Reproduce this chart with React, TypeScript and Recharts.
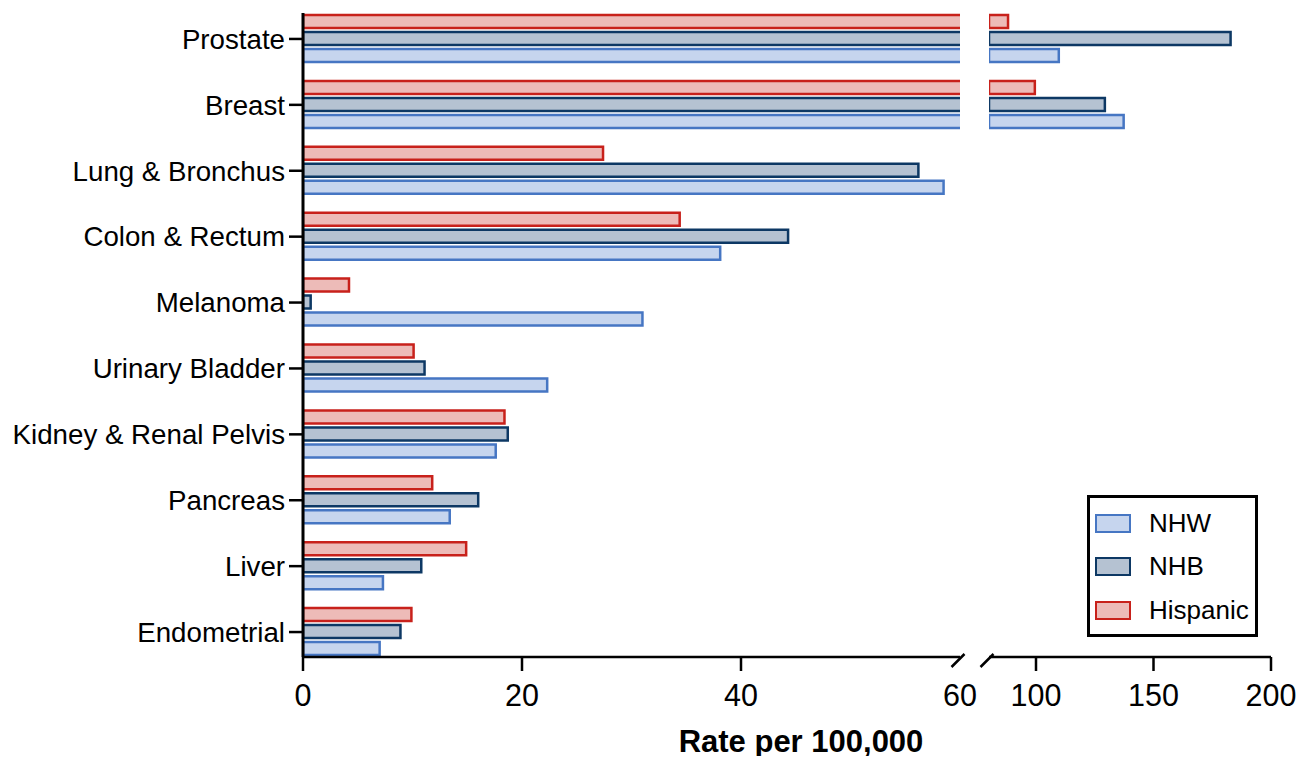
import React from 'react';
import { BarChart, Bar, XAxis, YAxis, Legend } from 'recharts';

const categories = [
  'Prostate',
  'Breast',
  'Lung & Bronchus',
  'Colon & Rectum',
  'Melanoma',
  'Urinary Bladder',
  'Kidney & Renal Pelvis',
  'Pancreas',
  'Liver',
  'Endometrial',
];
const nhw = [109.7, 137.3, 58.5, 38.1, 31.0, 22.3, 17.6, 13.4, 7.3, 7.0];
const nhb = [182.8, 129.3, 56.2, 44.3, 0.7, 11.1, 18.7, 16.0, 10.8, 8.9];
const hispanic = [88.1, 99.5, 27.4, 34.4, 4.2, 10.1, 18.4, 11.8, 14.9, 9.9];

const lowTicks = [0, 20, 40, 60];
const highTicks = [80, 100, 150, 200];
const BREAK_LOW = 60;
const BREAK_HIGH = 80;

const FONT = '"Liberation Sans", Arial, Helvetica, sans-serif';
const TICK = 14;

// bars top to bottom inside each category
const series = [
  { key: 'hispanic', name: 'Hispanic', fill: '#edbbb8', stroke: '#c8211b' },
  { key: 'nhb', name: 'NHB', fill: '#b5c2d2', stroke: '#0d3864' },
  { key: 'nhw', name: 'NHW', fill: '#c6d5ee', stroke: '#4676c3' },
];
const legendOrder = ['nhw', 'nhb', 'hispanic'];

const lowData = categories.map((name, i) => ({
  name,
  nhw: nhw[i],
  nhb: nhb[i],
  hispanic: hispanic[i],
}));

// only the bars that run past the break continue on the right segment
const highData = categories.map((name, i) => ({
  name,
  nhw: nhw[i] > BREAK_LOW ? nhw[i] : null,
  nhb: nhb[i] > BREAK_LOW ? nhb[i] : null,
  hispanic: hispanic[i] > BREAK_LOW ? hispanic[i] : null,
}));

const XTick = (props: any) => {
  const { x, y, payload, breakAt, hideLabel } = props;
  const axisY = y - TICK;
  const isBreak = payload.value === breakAt;
  return (
    <g>
      {isBreak ? (
        <line x1={x - 8.5} y1={axisY + 10} x2={x + 4.5} y2={axisY - 3} stroke="#000" strokeWidth={2.5} />
      ) : (
        <line x1={x} y1={axisY} x2={x} y2={axisY + TICK} stroke="#000" strokeWidth={2.5} />
      )}
      {!(isBreak && hideLabel) && (
        <text x={x} y={axisY + 38} dy="0.355em" textAnchor="middle" fontSize={30.5} fontFamily={FONT} fill="#000">
          {payload.value}
        </text>
      )}
    </g>
  );
};

const LegendBox = () => (
  <div
    style={{
      position: 'relative',
      width: 165,
      height: 136,
      border: '3px solid #000',
      background: '#fff',
      fontFamily: FONT,
      boxSizing: 'content-box',
    }}
  >
    {legendOrder.map((k, i) => {
      const s = series.find((d) => d.key === k)!;
      return (
        <div
          key={k}
          style={{ position: 'absolute', left: 5, top: 12 + i * 43.5, display: 'flex', alignItems: 'center', height: 26 }}
        >
          <div
            style={{
              width: 32,
              height: 15,
              background: s.fill,
              border: `2.5px solid ${s.stroke}`,
              marginRight: 18,
            }}
          />
          <span style={{ fontSize: 26, color: '#000' }}>{s.name}</span>
        </div>
      );
    })}
  </div>
);

export default function App() {
  const yPad = { top: -7, bottom: -8 };
  return (
    <div style={{ position: 'relative', width: 1309, height: 764, margin: -8, background: '#fff', fontFamily: FONT }}>
      <div style={{ position: 'absolute', left: 0, top: 0 }}>
        <BarChart
          width={1000}
          height={764}
          layout="vertical"
          data={lowData}
          margin={{ top: 13, right: 40, left: 0, bottom: 47 }}
          barSize={13}
          barGap={4}
        >
          <XAxis
            type="number"
            domain={[0, 60]}
            ticks={lowTicks}
            allowDataOverflow
            interval={0}
            height={60}
            axisLine={{ stroke: '#000', strokeWidth: 2.5 }}
            tickLine={false}
            tickSize={TICK}
            tickMargin={0}
            tick={(p: any) => <XTick {...p} breakAt={BREAK_LOW} />}
          />
          <YAxis
            type="category"
            dataKey="name"
            width={303}
            padding={yPad}
            axisLine={{ stroke: '#000', strokeWidth: 3 }}
            tickLine={{ stroke: '#000', strokeWidth: 2.5 }}
            tickSize={14}
            tickMargin={4}
            interval={0}
            tick={{ fontSize: 27.7, fill: '#000', fontFamily: FONT }}
          />
          {series.map((s) => (
            <Bar
              key={s.key}
              dataKey={s.key}
              name={s.name}
              fill={s.fill}
              stroke={s.stroke}
              strokeWidth={2.5}
              isAnimationActive={false}
            />
          ))}
        </BarChart>
      </div>
      <div style={{ position: 'absolute', left: 960, top: 0 }}>
        <BarChart
          width={349}
          height={764}
          layout="vertical"
          data={highData}
          margin={{ top: 13, right: 38, left: 29, bottom: 47 }}
          barSize={13}
          barGap={4}
        >
          <XAxis
            type="number"
            domain={[80, 200]}
            ticks={highTicks}
            allowDataOverflow
            interval={0}
            height={60}
            axisLine={{ stroke: '#000', strokeWidth: 2.5 }}
            tickLine={false}
            tickSize={TICK}
            tickMargin={0}
            tick={(p: any) => <XTick {...p} breakAt={BREAK_HIGH} hideLabel />}
          />
          <YAxis type="category" dataKey="name" hide padding={yPad} />
          {series.map((s) => (
            <Bar
              key={s.key}
              dataKey={s.key}
              name={s.name}
              fill={s.fill}
              stroke={s.stroke}
              strokeWidth={2.5}
              isAnimationActive={false}
            />
          ))}
          <Legend
            layout="horizontal"
            verticalAlign="middle"
            content={() => <LegendBox />}
            wrapperStyle={{ position: 'absolute', left: 127, top: 495, width: 'auto' }}
          />
        </BarChart>
      </div>
      <div
        style={{
          position: 'absolute',
          left: 801,
          top: 726,
          transform: 'translateX(-50%)',
          fontSize: 31,
          fontWeight: 'bold',
          lineHeight: '32px',
          whiteSpace: 'nowrap',
          color: '#000',
        }}
      >
        Rate per 100,000
      </div>
    </div>
  );
}
